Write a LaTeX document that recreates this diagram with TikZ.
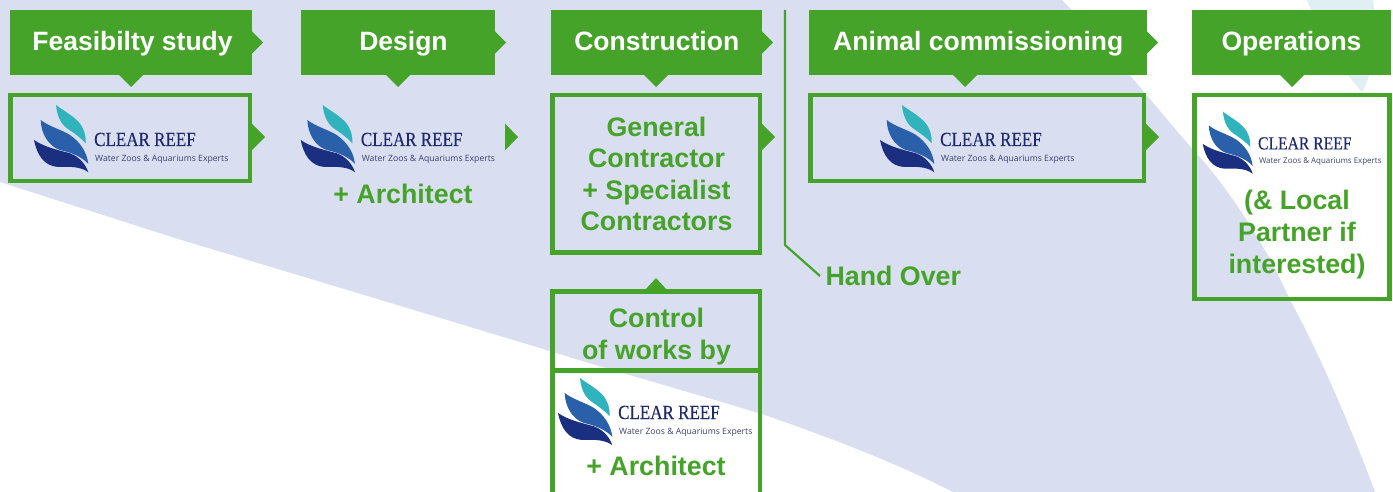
\documentclass[tikz,border=0pt]{standalone}
\usepackage{fontspec}
\setmainfont{Liberation Sans}
\newfontfamily\logoserif[FakeStretch=0.85,FakeBold=0.35]{Liberation Serif}
\newfontfamily\logosans{Open Sans}
\definecolor{lav}{HTML}{D9DEF0}
\definecolor{pale}{HTML}{DFEFF4}
\definecolor{gr}{HTML}{46A329}
\definecolor{lteal}{HTML}{30B3BD}
\definecolor{lmid}{HTML}{2A5FA9}
\definecolor{ldark}{HTML}{1B2F80}
\definecolor{ltext}{HTML}{1F2A6E}
\definecolor{lsub}{HTML}{3A4272}
\tikzset{
  hdr/.style={fill=gr,inner sep=0pt,outer sep=0pt,text=white,font=\bfseries\fontsize{26.5}{30}\selectfont,text height=23pt,text depth=6pt},
  frame/.style={draw=gr,line width=4.6pt,inner sep=0pt,outer sep=0pt},
  tip/.style={fill=gr},
  gtext/.style={text=gr,font=\bfseries\fontsize{26.8}{31.6}\selectfont,align=center,inner sep=0pt,outer sep=0pt},
  handline/.style={draw=gr,line width=2.2pt,line join=miter}
}
\newcommand{\hdrbox}[6]{\node[hdr,minimum width={#3-#2},minimum height={#5-#4}] (#1) at ({(#2+#3)/2},{(#4+#5)/2}) {#6};}
\newcommand{\frbox}[5]{\node[frame,minimum width={#3-#2},minimum height={#5-#4}] (#1) at ({(#2+#3)/2},{(#4+#5)/2}) {};}
\newcommand{\clearlogo}[4]{%
\begin{scope}[shift={(#2,#3)},scale=#4,transform shape]
\fill[lteal] (22,0) .. controls (27,4) and (38,10) .. (44.3,16.7) .. controls (50,23) and (52,30) .. (51.7,38.3) .. controls (47,33) and (40,28) .. (33,23.3) .. controls (26,18) and (23,10) .. (22,0) -- cycle;
\fill[lmid] (6.7,15) .. controls (14,21) and (28,25) .. (36,30) .. controls (46,37) and (53,47) .. (54.3,59) .. controls (49,53) and (40,48) .. (26,45) .. controls (14,41) and (7,28) .. (6.7,15) -- cycle;
\fill[ldark] (0,35) .. controls (10,42) and (24,45) .. (36,48.3) .. controls (46,52) and (52,60) .. (54.3,67.3) .. controls (49,63) and (40,61) .. (24,62) .. controls (10,61) and (3,50) .. (0,35) -- cycle;
\node[anchor=base west,inner sep=0pt,text=ltext,font=\logoserif\fontsize{20}{22}\selectfont] (#1a) at (60,41) {CLEAR REEF};
\node[anchor=base west,inner sep=0pt,text=lsub,font=\logosans\fontsize{8.65}{10}\selectfont] (#1b) at (61,56) {Water Zoos \& Aquariums Experts};
\end{scope}}
\begin{document}
\begin{tikzpicture}[x=1pt,y=-1pt]
\useasboundingbox (0,0) rectangle (1393,492);
% background
\fill[white] (0,0) rectangle (1393,492);
\fill[pale] (1307,0) .. controls (1318,28) and (1335,62) .. (1362,92) .. controls (1372,78) and (1378,30) .. (1373,0) -- cycle;
\fill[lav] (0,0) -- (1062,0) .. controls (1120,60) and (1170,125) .. (1205,163) .. controls (1240,205) and (1270,255) .. (1290,300) .. controls (1320,355) and (1350,425) .. (1375,492) -- (953,492) .. controls (890,460) and (830,438) .. (765,415) .. controls (690,392) and (610,370) .. (540,348) -- (175,238) -- (0,182) -- cycle;
% headers
\hdrbox{h1}{10}{252}{10}{75}{\hspace*{3pt}Feasibilty study}
\hdrbox{h2}{301}{495}{10}{75}{\hspace*{11pt}Design}
\hdrbox{h3}{550.5}{762}{10}{75}{\hspace*{1pt}Construction}
\hdrbox{h4}{808.5}{1147}{10}{75}{\hspace*{1pt}Animal commissioning}
\hdrbox{h5}{1192}{1391}{10}{75}{Operations}
% header tips
\foreach \n/\dx in {h1/131,h2/398,h3/656,h4/965,h5/1292}{
  \fill[tip] (\dx-12,75) -- (\dx,87) -- (\dx+12,75) -- cycle;}
\foreach \n in {h1,h2,h3,h4}{
  \fill[tip] (\n.east) ++(0,-11) -- ++(11,11) -- ++(-11,11) -- cycle;}
% frames
\frbox{b1}{10.3}{250}{95}{181}
\frbox{b3}{552.5}{760}{95}{252.5}
\frbox{b4}{810.5}{1144}{95}{181}
\frbox{b5}{1194.3}{1389.7}{95}{299}
\frbox{c1}{552.5}{760}{291.3}{370.5}
\frbox{c2}{552.5}{760}{370.5}{495}
% frame tips
\foreach \n in {b1,b3,b4}{
  \fill[tip] ([xshift=2pt]\n.east |- 0,137) ++(0,-13) -- ++(13,13) -- ++(-13,13) -- cycle;}
\coordinate (a2) at (505,137);
\fill[tip] (a2) ++(0,-13.5) -- ++(13,13.5) -- ++(-13,13.5) -- cycle;
\fill[tip] (645,290) -- (656,278) -- (667,290) -- cycle;
% logos
\clearlogo{l1}{34}{105}{1}
\clearlogo{l2}{300.7}{105}{1}
\clearlogo{l4}{880}{105}{1}
\clearlogo{l5}{1202.7}{111.7}{0.92}
\clearlogo{l3}{558}{378}{1}
% texts
\node[gtext] (t2) at (403,194) {+ Architect};
\node[gtext] (t3) at (656.5,174) {General\\Contractor\\+ Specialist\\Contractors};
\node[gtext] (t4) at (656.5,336.5) {Control\\of works by};
\node[gtext] (t5) at (656,466) {+ Architect};
\node[gtext] (t6) at (1297,234.5) {(\& Local\\Partner if\\interested)};
\node[gtext,anchor=west,inner xsep=5.5pt] (hand) at (820,276) {Hand Over};
% hand over line
\coordinate (ho1) at (785,10);
\coordinate (ho2) at (785,245);
\draw[handline] (ho1) -- (ho2) -- (hand.west);
\end{tikzpicture}
\end{document}
